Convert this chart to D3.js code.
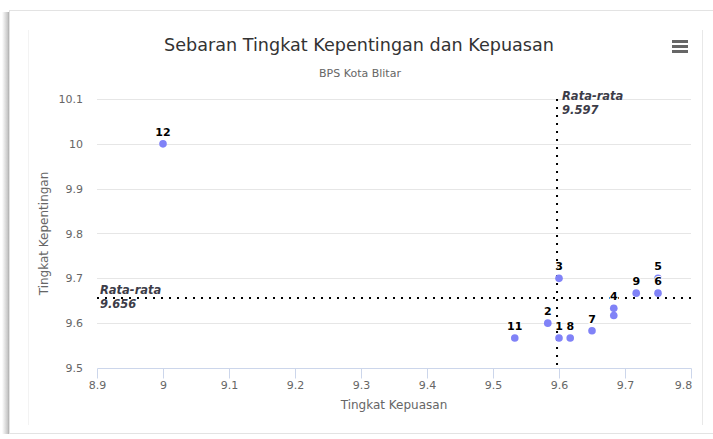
<!DOCTYPE html>
<html>
<head>
<meta charset="utf-8">
<title>Sebaran Tingkat Kepentingan dan Kepuasan</title>
<script src="https://d3js.org/d3.v7.min.js"></script>
<style>
  body { margin: 0; background: #fff; }
  svg { display: block; }
</style>
</head>
<body>
<div id="chart"></div>
<script type="text/javascript">
// nomor atribut, tingkat kepuasan (x), tingkat kepentingan (y)
let labels      = ["1", "2", "3", "4", "5", "6", "7", "8", "9", "10", "11", "12"];
let kepuasan    = [9.600, 9.583, 9.600, 9.683, 9.750, 9.750, 9.650, 9.617, 9.717, 9.683, 9.533, 9.000];
let kepentingan = [9.567, 9.600, 9.700, 9.633, 9.700, 9.667, 9.583, 9.567, 9.667, 9.617, 9.567, 10.000];
let xTicks = [8.9, 9, 9.1, 9.2, 9.3, 9.4, 9.5, 9.6, 9.7, 9.8];
let yTicks = [9.5, 9.6, 9.7, 9.8, 9.9, 10, 10.1];
let rataX = 9.597;
let rataY = 9.656;

let W = 713, H = 439;
let margin = {top: 99, right: 22, bottom: 71, left: 97};
let w = W - margin.left - margin.right;
let h = H - margin.top - margin.bottom;
let font = "'DejaVu Sans', 'Lucida Grande', sans-serif";

let data = labels.map(function(l, i) {
    return {name: l, x: kepuasan[i], y: kepentingan[i]};
});

let svg = d3.select("#chart").append("svg")
    .attr("width", W)
    .attr("height", H)
    .style("font-family", font);

// bingkai kartu
let defs = svg.append("defs");
let grad = defs.append("linearGradient").attr("id", "shadow");
grad.append("stop").attr("offset", "0%").attr("stop-color", "#fff");
grad.append("stop").attr("offset", "70%").attr("stop-color", "#c8c8c8");
grad.append("stop").attr("offset", "100%").attr("stop-color", "#999");
svg.append("rect").attr("x", 2).attr("y", 12).attr("width", 8).attr("height", 422)
    .attr("fill", "url(#shadow)");
svg.append("rect").attr("x", 9.5).attr("y", 10.5).attr("width", 720).attr("height", 423)
    .attr("fill", "#fff").attr("stroke", "#e3e3e3");
svg.append("line").attr("x1", 28.5).attr("x2", 28.5).attr("y1", 30).attr("y2", 425)
    .attr("stroke", "#f3f3f3");
svg.append("line").attr("x1", 702.5).attr("x2", 702.5).attr("y1", 30).attr("y2", 425)
    .attr("stroke", "#e8e8e8");

let g = svg.append("g")
    .attr("transform", "translate(" + margin.left + "," + margin.top + ")");

let xScale = d3.scaleLinear().domain([8.9, 9.8]).range([0, w]);
let yScale = d3.scaleLinear().domain([9.5, 10.1]).range([h, 0]);

// grid horizontal
g.selectAll("line.grid")
    .data(yTicks.slice(1))
    .enter()
    .append("line")
    .attr("class", "grid")
    .attr("x1", 0).attr("x2", w)
    .attr("y1", function(d) { return Math.round(yScale(d)) + 0.5; })
    .attr("y2", function(d) { return Math.round(yScale(d)) + 0.5; })
    .attr("stroke", "#e6e6e6");

// sumbu x
let xAxis = d3.axisBottom(xScale).tickValues(xTicks).tickSize(10).tickFormat(d3.format("~g"));
let gx = g.append("g")
    .attr("transform", "translate(0," + (h + 0.5) + ")")
    .call(xAxis);
gx.select(".domain").attr("stroke", "#ccd6eb").attr("d", "M0.5,0H" + (w + 0.5));
gx.selectAll(".tick line").attr("stroke", "#ccd6eb");
gx.selectAll(".tick text")
    .attr("fill", "#666").attr("font-size", "11px").attr("font-family", font)
    .attr("y", 13)
    .attr("dx", function(d) { return d === 9.8 ? -8 : 0; });

// sumbu y
let yAxis = d3.axisLeft(yScale).tickValues(yTicks).tickSize(0).tickPadding(14).tickFormat(d3.format("~g"));
let gy = g.append("g").call(yAxis);
gy.select(".domain").remove();
gy.selectAll(".tick text")
    .attr("fill", "#666").attr("font-size", "11px").attr("font-family", font);

// judul
svg.append("text")
    .attr("x", 359).attr("y", 51)
    .attr("text-anchor", "middle")
    .attr("fill", "#333")
    .attr("font-size", "17.6px")
    .text("Sebaran Tingkat Kepentingan dan Kepuasan");
svg.append("text")
    .attr("x", 360).attr("y", 77)
    .attr("text-anchor", "middle")
    .attr("fill", "#666")
    .attr("font-size", "11px")
    .text("BPS Kota Blitar");

// judul sumbu
svg.append("text")
    .attr("x", margin.left + w / 2).attr("y", 409)
    .attr("text-anchor", "middle")
    .attr("fill", "#666")
    .attr("font-size", "12px")
    .text("Tingkat Kepuasan");
svg.append("text")
    .attr("transform", "translate(48," + (margin.top + h / 2) + ") rotate(-90)")
    .attr("text-anchor", "middle")
    .attr("fill", "#666")
    .attr("font-size", "12px")
    .text("Tingkat Kepentingan");

// tombol menu
[41, 46, 51].forEach(function(yy) {
    svg.append("line")
        .attr("x1", 672).attr("x2", 688)
        .attr("y1", yy + 0.5).attr("y2", yy + 0.5)
        .attr("stroke", "#666").attr("stroke-width", 3);
});

// garis rata-rata
g.append("line")
    .attr("x1", 0).attr("x2", w)
    .attr("y1", yScale(rataY)).attr("y2", yScale(rataY))
    .attr("stroke", "#000").attr("stroke-width", 2)
    .attr("stroke-dasharray", "2,6");
g.append("line")
    .attr("x1", xScale(rataX)).attr("x2", xScale(rataX))
    .attr("y1", 0).attr("y2", h)
    .attr("stroke", "#000").attr("stroke-width", 2)
    .attr("stroke-dasharray", "2,6");

function rataLabel(x, y, val) {
    let t = g.append("text")
        .attr("x", x).attr("y", y)
        .attr("fill", "#3c3c48")
        .attr("font-size", "11.5px")
        .attr("font-style", "italic")
        .attr("font-weight", "bold");
    t.append("tspan").attr("x", x).text("Rata-rata");
    t.append("tspan").attr("x", x).attr("dy", 14).text(val);
}
rataLabel(3, yScale(rataY) - 4, rataY);
rataLabel(xScale(rataX) + 5, 1, rataX);

// titik
g.selectAll("circle")
    .data(data)
    .enter()
    .append("circle")
    .attr("cx", function(d) { return xScale(d.x); })
    .attr("cy", function(d) { return yScale(d.y); })
    .attr("r", 3.8)
    .attr("fill", "#8082f7");

// label titik (label 10 tertutup label 4)
g.selectAll("text.lbl")
    .data(data.filter(function(d) { return d.name !== "10"; }))
    .enter()
    .append("text")
    .attr("class", "lbl")
    .attr("x", function(d) { return xScale(d.x); })
    .attr("y", function(d) { return yScale(d.y) - 8; })
    .attr("text-anchor", "middle")
    .attr("font-size", "11px")
    .attr("font-weight", "bold")
    .attr("fill", "#000")
    .attr("stroke", "#fff")
    .attr("stroke-width", 2)
    .attr("paint-order", "stroke")
    .text(function(d) { return d.name; });
</script>
</body>
</html>
